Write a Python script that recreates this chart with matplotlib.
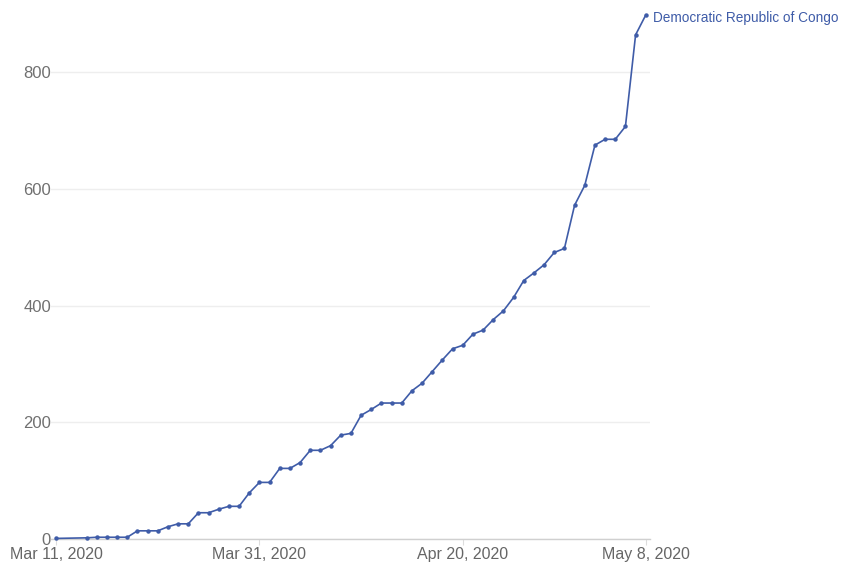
import matplotlib
matplotlib.use("Agg")
import matplotlib.pyplot as plt
import pandas as pd

plt.rcParams['font.family'] = ['Liberation Sans', 'DejaVu Sans']

# confirmed cases, one value per reported day (Mar 12 and Mar 13 not reported)
start, end = "2020-03-11", "2020-05-08"
missing = ["2020-03-12", "2020-03-13"]
cases = [1, 2, 3, 3, 3, 3, 14, 14, 14, 21, 26, 26, 45, 45, 51, 56, 56, 79,
         97, 97, 121, 121, 131, 152, 152, 160, 178, 181, 212, 222, 233, 233,
         233, 254, 267, 287, 307, 326, 332, 351, 358, 376, 391, 414, 443, 456,
         470, 491, 498, 572, 606, 675, 685, 685, 707, 864, 898]
country = "Democratic Republic of Congo"
xtick_dates = ["2020-03-11", "2020-03-31", "2020-04-20", "2020-05-08"]
xtick_labels = ["Mar 11, 2020", "Mar 31, 2020", "Apr 20, 2020", "May 8, 2020"]
yticks = [0, 200, 400, 600, 800]

dates = pd.date_range(start, end).drop(pd.to_datetime(missing))

line_color = "#3f5ca8"
fig = plt.figure(figsize=(8.42, 5.68), dpi=100)
ax = fig.add_axes([51 / 842, 29 / 568, 599 / 842, 524 / 568])

ax.plot(dates, cases, color=line_color, lw=1.2, marker="o", ms=2.2,
        clip_on=False, zorder=3)

d0 = pd.Timestamp(start)
d1 = pd.Timestamp(end)
ax.set_xlim(d0 - pd.Timedelta(hours=12), d1 + pd.Timedelta(hours=10))
ax.set_ylim(0, max(cases))

ax.set_yticks(yticks)
ax.set_yticklabels([str(v) for v in yticks])
ax.set_xticks(pd.to_datetime(xtick_dates))
ax.set_xticklabels(xtick_labels)

for s in ["top", "right", "left"]:
    ax.spines[s].set_visible(False)
ax.spines["bottom"].set_color("#d0d0d0")
ax.spines["bottom"].set_linewidth(1)

ax.grid(axis="y", color="#eeeeee", lw=1)
ax.set_axisbelow(True)
ax.tick_params(axis="y", length=0, pad=0, labelsize=12, labelcolor="#707070")
ax.tick_params(axis="x", length=4, color="#dddddd", pad=2, labelsize=11.5,
               labelcolor="#666666")

ax.annotate(country, xy=(dates[-1], cases[-1]), xytext=(5, -2),
            textcoords="offset points", color=line_color, fontsize=9.8,
            va="center", ha="left", annotation_clip=False)

fig.savefig("out.png", dpi=100)
